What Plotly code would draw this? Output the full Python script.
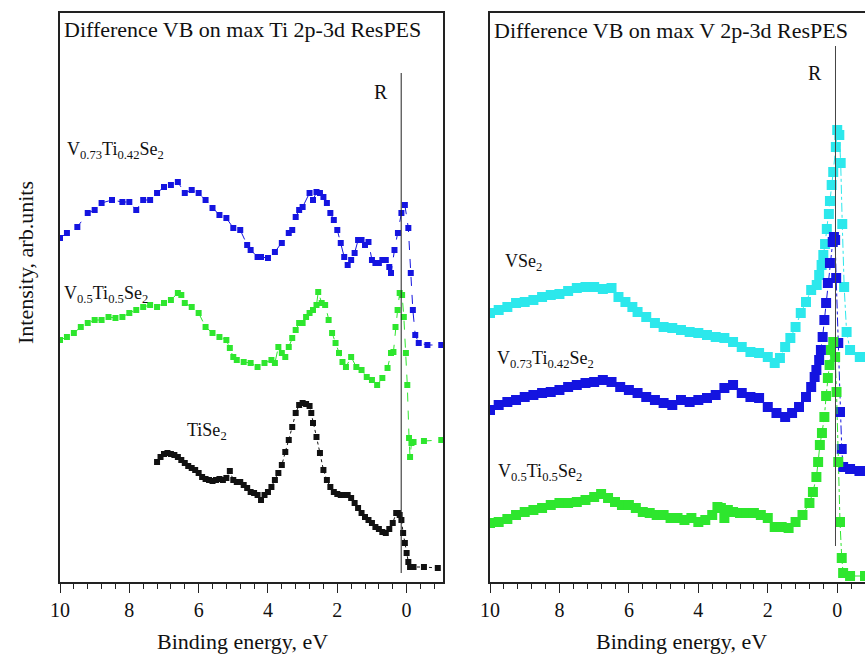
import plotly.graph_objects as go

# ---------------- data (binding energy in eV, intensity in arb. units) ----------------
# Left panel: Difference VB on max Ti 2p-3d ResPES
ti_v73_E = [10, 9.8, 9.5, 9.2, 9.0, 8.8, 8.5, 8.2, 8.0, 7.8, 7.6, 7.4, 7.2, 7.0, 6.8, 6.6, 6.4, 6.2, 6.0, 5.8,
            5.6, 5.4, 5.2, 5.0, 4.8, 4.6, 4.5, 4.3, 4.2, 4.0, 3.8, 3.6, 3.4, 3.3, 3.2, 3.1, 3.0, 2.8, 2.7, 2.6,
            2.5, 2.4, 2.3, 2.2, 2.1, 2.0, 1.9, 1.8, 1.7, 1.6, 1.5, 1.4, 1.3, 1.2, 1.1, 1.0, 0.9, 0.8, 0.7, 0.6,
            0.5, 0.45, 0.35, 0.25, 0.15, 0.05, -0.05, -0.12, -0.18, -0.25, -0.35, -0.6, -1.0]
ti_v73_I = [344, 349, 355, 369, 372, 379, 382, 380, 380, 372, 382, 382, 389, 395, 397, 400, 389, 392, 389, 382,
            374, 367, 364, 354, 352, 337, 332, 325, 325, 324, 330, 339, 349, 352, 365, 372, 375, 389, 382, 390,
            389, 385, 379, 369, 362, 352, 339, 325, 317, 322, 329, 342, 342, 337, 340, 322, 319, 319, 322, 322,
            315, 309, 332, 349, 369, 377, 354, 309, 272, 247, 239, 237, 237]

ti_v50_E = [10, 9.8, 9.6, 9.4, 9.2, 9.0, 8.8, 8.6, 8.4, 8.2, 8.0, 7.8, 7.6, 7.4, 7.2, 7.0, 6.8, 6.6, 6.5, 6.4,
            6.2, 6.0, 5.8, 5.6, 5.4, 5.2, 5.1, 5.0, 4.9, 4.7, 4.5, 4.3, 4.1, 3.9, 3.8, 3.7, 3.6, 3.5, 3.4, 3.3,
            3.2, 3.1, 3.0, 2.9, 2.8, 2.7, 2.6, 2.55, 2.45, 2.35, 2.25, 2.15, 2.05, 1.95, 1.85, 1.75, 1.6, 1.45,
            1.3, 1.15, 1.0, 0.85, 0.7, 0.55, 0.45, 0.38, 0.32, 0.26, 0.2, 0.13, 0.08, 0.02, -0.02, -0.07, -0.1,
            -0.14, -0.2, -0.5, -1.0]
ti_v50_I = [242, 245, 249, 255, 259, 262, 262, 265, 264, 265, 269, 272, 275, 277, 275, 279, 282, 289, 287, 279,
            275, 269, 255, 249, 245, 242, 234, 225, 222, 220, 219, 215, 219, 222, 219, 235, 229, 225, 235, 244,
            252, 259, 259, 265, 269, 272, 277, 290, 279, 277, 262, 249, 239, 229, 220, 215, 225, 215,
            212, 205, 202, 197, 204, 214, 229, 230, 255, 272, 289, 287, 265, 229, 197, 144, 125,
            139, 140, 141, 142]

ti_tise2_E = [7.2, 7.1, 7.0, 6.9, 6.8, 6.7, 6.6, 6.5, 6.4, 6.3, 6.2, 6.1, 6.0, 5.9, 5.8, 5.7, 5.6, 5.5, 5.4, 5.3,
              5.2, 5.1, 5.0, 4.9, 4.8, 4.7, 4.6, 4.5, 4.4, 4.3, 4.2, 4.1, 4.0, 3.9, 3.8, 3.7, 3.6, 3.5, 3.4, 3.3,
              3.2, 3.1, 3.0, 2.9, 2.8, 2.75, 2.7, 2.6, 2.5, 2.4, 2.3, 2.2, 2.1, 2.0, 1.9, 1.8, 1.7, 1.6, 1.5, 1.4,
              1.3, 1.2, 1.1, 1.0, 0.9, 0.8, 0.7, 0.6, 0.5, 0.4, 0.3, 0.25, 0.2, 0.15, 0.1, 0.05, 0.0, -0.05, -0.1,
              -0.2, -0.5, -0.9]
ti_tise2_I = [120, 125, 128, 129, 128, 127, 125, 122, 119, 116, 114, 112, 109, 105, 103, 102, 101, 102, 103, 102,
              104, 111, 102, 100, 100, 97, 94, 90, 89, 87, 82, 87, 90, 95, 102, 109, 117, 130, 142, 155,
              169, 177, 179, 178, 176, 169, 159, 145, 129, 112, 102, 95, 90, 88, 87, 87, 87, 84, 79, 74,
              69, 65, 62, 59, 55, 53, 50, 49, 53, 59, 69, 69, 67, 62, 49, 39, 29, 20, 15,
              15, 15, 14]

# Right panel: Difference VB on max V 2p-3d ResPES
v_vse2_E = [10, 9.75, 9.5, 9.25, 9.0, 8.75, 8.5, 8.25, 8.0, 7.75, 7.5, 7.25, 7.0, 6.75, 6.5, 6.3, 6.1, 5.9, 5.75,
            5.5, 5.25, 5.0, 4.75, 4.5, 4.25, 4.0, 3.75, 3.5, 3.25, 3.0, 2.75, 2.5, 2.25, 2.0, 1.8, 1.65, 1.5, 1.35,
            1.2, 1.05, 0.9, 0.75, 0.59, 0.52, 0.45, 0.40, 0.35, 0.30, 0.24, 0.21, 0.16, 0.115, 0.04, 0.0, -0.06,
            -0.1, -0.145, -0.2, -0.27, -0.37, -0.65, -0.8]
v_vse2_I = [269, 272, 275, 279, 280, 282, 285, 287, 288, 291, 294, 295, 295, 293, 294, 285, 280, 275, 270,
            265, 259, 255, 254, 252, 250, 249, 247, 245, 244, 240, 235, 230, 229, 225, 219, 224, 235, 244,
            255, 269, 280, 292, 297, 307, 317, 327, 338, 353, 368, 381, 397, 410, 435, 452, 447,
            419, 358, 295, 250, 232, 225, 225]

v_v73_E = [10, 9.75, 9.5, 9.25, 9.0, 8.75, 8.5, 8.25, 8.0, 7.75, 7.5, 7.25, 7.0, 6.75, 6.5, 6.25, 6.0, 5.75, 5.5,
           5.25, 5.0, 4.75, 4.5, 4.25, 4.0, 3.75, 3.5, 3.25, 3.0, 2.75, 2.5, 2.25, 2.0, 1.75, 1.5, 1.3, 1.1, 0.9,
           0.75, 0.65, 0.6, 0.52, 0.47, 0.42, 0.37, 0.32, 0.27, 0.21, 0.13, 0.095, 0.06, 0.03, -0.03, -0.08,
           -0.13, -0.17, -0.37, -0.64, -0.8]
v_v73_I = [172, 177, 180, 182, 185, 187, 189, 190, 192, 195, 197, 199, 200, 202, 200, 195, 192, 189, 185,
           182, 179, 177, 182, 180, 182, 184, 187, 194, 197, 189, 185, 184, 175, 169, 165, 169, 175, 185,
           195, 205, 212, 222, 232, 245, 262, 279, 299, 319, 340, 345, 342, 304, 239, 170,
           133, 115, 113, 111, 111]

v_v50_E = [10, 9.75, 9.5, 9.25, 9.0, 8.75, 8.5, 8.25, 8.0, 7.75, 7.5, 7.25, 7.0, 6.8, 6.6, 6.4, 6.2, 6.0, 5.8,
           5.6, 5.4, 5.2, 5.0, 4.8, 4.6, 4.4, 4.2, 4.0, 3.8, 3.6, 3.45, 3.35, 3.25, 3.15, 3.0, 2.8, 2.6, 2.4,
           2.2, 2.0, 1.8, 1.6, 1.4, 1.2, 1.0, 0.8, 0.7, 0.6, 0.55, 0.5, 0.44, 0.37, 0.32, 0.27, 0.22, 0.18,
           0.115, 0.06, 0.02, -0.03, -0.08, -0.13, -0.17, -0.37, -0.8]
v_v50_I = [59, 60, 63, 67, 70, 72, 74, 77, 79, 79, 80, 82, 85, 88, 84, 80, 77, 77, 74,
           70, 69, 67, 67, 64, 64, 62, 64, 60, 62, 67, 75, 74, 64, 72, 70, 69, 69, 69,
           67, 64, 55, 55, 54, 60, 67, 79, 90, 105, 120, 137, 149, 165, 186, 204, 217, 232,
           240, 225, 190, 120, 60, 24, 9, 6, 6]

# reference (R) lines: energy and vertical extent
R_left_E, R_left_span = 0.156, [9, 509]
R_right_E, R_right_span = 0.05, [36, 536]

x_ticks = [10, 8, 6, 4, 2, 0]
x_ticklabels = ["10", "8", "6", "4", "2", "0"]

# ---------------- styles ----------------
FONT = "'Liberation Serif', 'Times New Roman', 'DejaVu Serif', serif"
BLUE = "#1414e0"
GREEN = "#2ee62e"
CYAN = "#2ce8ec"
BLACK = "#111111"
AXC = "#222222"

fig = go.Figure()


def add_series(E, I, color, xa, ya, msize, dash):
    fig.add_trace(go.Scatter(
        x=E, y=I, xaxis=xa, yaxis=ya, mode="lines+markers",
        line=dict(color=color, width=1, dash=dash),
        marker=dict(symbol="square", size=msize, color=color, line=dict(width=0)),
        showlegend=False, hoverinfo="skip"))


add_series(ti_v73_E, ti_v73_I, BLUE, "x", "y", 6, "dash")
add_series(ti_v50_E, ti_v50_I, GREEN, "x", "y", 6, "dash")
add_series(ti_tise2_E, ti_tise2_I, BLACK, "x", "y", 6, "dot")
add_series(v_vse2_E, v_vse2_I, CYAN, "x2", "y2", 10, "dashdot")
add_series(v_v73_E, v_v73_I, BLUE, "x2", "y2", 10, "dashdot")
add_series(v_v50_E, v_v50_I, GREEN, "x2", "y2", 10, "dashdot")

fig.add_trace(go.Scatter(x=[R_left_E, R_left_E], y=R_left_span, xaxis="x", yaxis="y", mode="lines",
                         line=dict(color="#222", width=1), showlegend=False, hoverinfo="skip"))
fig.add_trace(go.Scatter(x=[R_right_E, R_right_E], y=R_right_span, xaxis="x2", yaxis="y2", mode="lines",
                         line=dict(color="#444", width=1), showlegend=False, hoverinfo="skip"))

W, H = 865, 657
ML, MR, MT, MB = 60, 0, 13, 75
PW, PH = W - ML - MR, H - MT - MB


def px(x):
    return (x - ML) / PW


def py(y):
    return (H - MB - y) / PH


xcommon = dict(showline=True, linecolor=AXC, linewidth=1.5, mirror=True, ticks="outside", ticklen=9,
               tickwidth=1.3, tickcolor=AXC, tickvals=x_ticks, ticktext=x_ticklabels,
               minor=dict(dtick=0.4, tick0=0, ticks="outside", ticklen=5, tickwidth=1.2, tickcolor=AXC, showgrid=False),
               showgrid=False, zeroline=False, tickfont=dict(family=FONT, size=20, color="#111"))
ycommon = dict(range=[0, PH], showline=True, linecolor=AXC, linewidth=1.5, showticklabels=False, ticks="",
               showgrid=False, zeroline=False)

fig.update_layout(
    width=W, height=H, margin=dict(l=ML, r=MR, t=MT, b=MB),
    paper_bgcolor="white", plot_bgcolor="white",
    font=dict(family=FONT),
    xaxis=dict(domain=[0, px(443)], range=[10, -1.05], anchor="y", **xcommon),
    yaxis=dict(domain=[0, 1], anchor="x", mirror=True, **ycommon),
    xaxis2=dict(domain=[px(490), 1], range=[10, -0.80], anchor="y2", **xcommon),
    yaxis2=dict(domain=[0, 1], anchor="x2", mirror=False, **ycommon),
)

ann = []


def txt(x, y, s, size, xanchor="left", angle=0):
    ann.append(dict(x=px(x), y=py(y), xref="paper", yref="paper", text=s, showarrow=False,
                    xanchor=xanchor, yanchor="middle", textangle=angle,
                    font=dict(family=FONT, size=size, color="#111")))


txt(62, 29, "Difference VB on max Ti 2p-3d ResPES", 22)
txt(492, 30, "Difference VB on max V 2p-3d ResPES", 22)
txt(381, 92, "R", 20, "center")
txt(815, 73, "R", 20, "center")
txt(65, 150, "V<sub>0.73</sub>Ti<sub>0.42</sub>Se<sub>2</sub>", 18)
txt(62, 294, "V<sub>0.5</sub>Ti<sub>0.5</sub>Se<sub>2</sub>", 18)
txt(185, 431, "TiSe<sub>2</sub>", 18)
txt(503, 262, "VSe<sub>2</sub>", 18)
txt(495, 359, "V<sub>0.73</sub>Ti<sub>0.42</sub>Se<sub>2</sub>", 18)
txt(496, 472, "V<sub>0.5</sub>Ti<sub>0.5</sub>Se<sub>2</sub>", 18)
txt(242, 641, "Binding energy, eV", 22, "center")
txt(681, 641, "Binding energy, eV", 22, "center")
txt(25, 263, "Intensity, arb.units", 22, "center", -90)
fig.update_layout(annotations=ann)

fig.write_html("out.html")
